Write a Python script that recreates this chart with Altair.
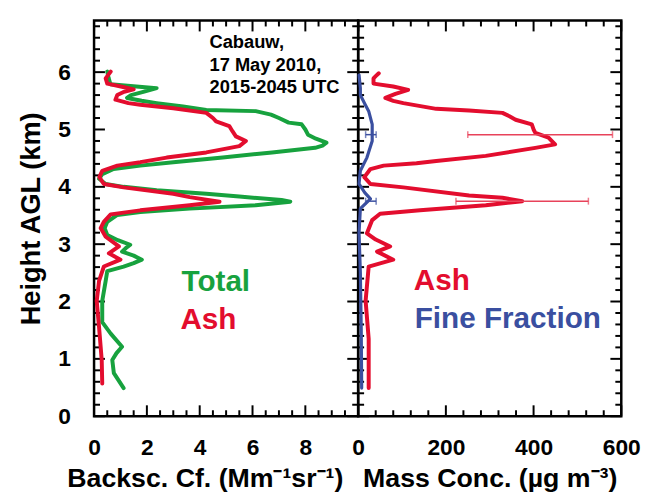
import altair as alt
import pandas as pd

# ---------------- data ----------------
# Left panel: backscatter coefficient (Mm-1 sr-1) vs height (km)
total_km = [6.01, 5.90, 5.79, 5.75, 5.72, 5.66, 5.60, 5.55, 5.50, 5.46, 5.40, 5.34, 5.32, 5.26,
            5.20, 5.12, 5.09, 5.00, 4.91, 4.84, 4.77, 4.72, 4.68, 4.60, 4.51, 4.43, 4.37, 4.31,
            4.22, 4.14, 4.05, 4.00, 3.94, 3.88, 3.83, 3.77, 3.74, 3.68, 3.62, 3.56, 3.51, 3.39,
            3.28, 3.16, 3.07, 2.99, 2.93, 2.87, 2.80, 2.73, 2.67, 2.61, 2.53, 2.36, 2.01, 1.64,
            1.44, 1.21, 1.10, 0.98, 0.75, 0.49]
total_bsc = [0.50, 0.55, 0.62, 1.60, 2.37, 1.90, 1.40, 1.25, 1.80, 2.37, 3.37, 4.25, 6.12, 6.70,
             7.00, 7.37, 7.86, 8.00, 8.10, 8.40, 8.80, 8.65, 8.37, 6.74, 4.87, 3.00, 1.75, 0.74,
             0.31, 0.19, 0.44, 1.12, 2.37, 4.25, 5.50, 7.10, 7.43, 6.12, 3.62, 1.75, 0.88, 0.50,
             0.40, 0.50, 0.90, 1.37, 1.20, 1.06, 1.50, 1.81, 1.50, 1.12, 0.50, 0.44, 0.31, 0.31,
             0.63, 1.06, 0.85, 0.69, 0.75, 1.12]

ash_km = [6.01, 5.96, 5.89, 5.80, 5.74, 5.70, 5.65, 5.60, 5.52, 5.46, 5.43, 5.37, 5.29, 5.20,
          5.14, 5.06, 4.97, 4.88, 4.80, 4.71, 4.60, 4.51, 4.43, 4.37, 4.28, 4.17, 4.05, 3.99,
          3.88, 3.82, 3.74, 3.68, 3.59, 3.52, 3.39, 3.28, 3.13, 2.96, 2.84, 2.73, 2.61, 2.36,
          2.01, 1.55, 0.98, 0.57]
ash_bsc = [0.63, 0.55, 0.44, 0.50, 1.10, 1.50, 1.10, 0.88, 0.81, 1.30, 1.75, 3.00, 4.25, 4.50,
           4.62, 5.12, 5.24, 5.37, 5.75, 5.50, 4.25, 2.75, 1.75, 0.88, 0.31, 0.20, 0.37, 1.12,
           3.00, 3.62, 4.75, 3.62, 1.75, 0.63, 0.37, 0.25, 0.44, 0.94, 0.56, 1.00, 0.37, 0.19,
           0.10, 0.19, 0.29, 0.31]

# Right panel: mass concentration (ug m-3) vs height (km)
mass_km = [5.98, 5.93, 5.89, 5.80, 5.75, 5.69, 5.62, 5.55, 5.50, 5.46, 5.36, 5.33, 5.29, 5.23,
           5.17, 5.09, 5.00, 4.94, 4.86, 4.74, 4.68, 4.54, 4.45, 4.41, 4.37, 4.31, 4.17, 4.05,
           3.99, 3.85, 3.81, 3.75, 3.68, 3.59, 3.53, 3.42, 3.19, 3.08, 2.96, 2.87, 2.73, 2.61,
           2.01, 1.35, 0.49]
ash_mass = [47, 40, 35, 35, 80, 114, 85, 62, 80, 103, 178, 253, 329, 345,
            359, 396, 400, 404, 434, 449, 404, 291, 178, 133, 58, 28, 14, 28,
            103, 253, 329, 374, 291, 141, 50, 32, 20, 40, 73, 43, 80, 24,
            17, 24, 24]

fine_km = [5.95, 5.72, 5.60, 5.45, 5.32, 5.09, 4.80, 4.51, 4.28, 4.05, 3.90, 3.79, 3.62, 3.20,
           2.50, 1.50, 0.49]
fine_mass = [2, 5, 5, 15, 24, 32, 32, 20, 5, 2, 15, 28, 5, 2, 5, 7, 8]

err_km = [4.91, 3.75]
ash_err_lo = [250, 223]
ash_err_hi = [580, 525]
fine_err_lo = [17, 17]
fine_err_hi = [41, 41]

left_x_labels = [0, 2, 4, 6, 8]
right_x_labels = [0, 200, 400, 600]
y_labels = [0, 1, 2, 3, 4, 5, 6]

site_text = "Cabauw,\n17 May 2010,\n2015-2045 UTC"

# ---------------- style ----------------
FONT = "Liberation Sans"
GREEN = "#17a23e"
RED = "#e30d2e"
RED_ERR = "#e8425a"
BLUE = "#3a4fa0"
W1, W2, H = 267, 266, 400
YDOM = [0, 6.9]

left_x_minor = [i * 0.5 for i in range(21) if (i * 0.5) % 2 != 0]
right_x_minor = [i * 40 for i in range(16) if (i * 40) % 200 != 0]
y_minor = [round(i * 0.2, 1) for i in range(35) if i % 5 != 0]
left_x_major = left_x_labels + [10]

x_axis_common = dict(ticks=False, domain=False, grid=False, labelFont=FONT, labelFontSize=23,
                     labelFontWeight="bold", labelColor="black", labelPadding=21,
                     labelFlush=False, titleFont=FONT, titleFontSize=27,
                     titleFontWeight="bold", titleColor="black", titlePadding=6)

left_x_axis = alt.Axis(values=left_x_labels, title="Backsc. Cf. (Mm\u207b\u00b9sr\u207b\u00b9)",
                       titleX=112, **x_axis_common)
right_x_axis = alt.Axis(values=right_x_labels, title="Mass Conc. (\u00b5g m\u207b\u00b3)",
                        **x_axis_common)
LEFT_XSCALE = alt.Scale(domain=[0, 10], nice=False, zero=False)
RIGHT_XSCALE = alt.Scale(domain=[0, 600], nice=False, zero=False)

X_left = alt.X("v:Q", scale=LEFT_XSCALE, axis=left_x_axis)
X_right = alt.X("v:Q", scale=RIGHT_XSCALE, axis=right_x_axis)
Y_left = alt.Y("km:Q", scale=alt.Scale(domain=YDOM, nice=False, zero=False),
               axis=alt.Axis(values=y_labels, title="Height AGL (km)", ticks=False, domain=False,
                             grid=False, labelFont=FONT, labelFontSize=23, labelFontWeight="bold",
                             labelColor="black", labelPadding=24, titleFont=FONT,
                             titleFontSize=27.5, titleFontWeight="bold", titleColor="black",
                             titlePadding=12))
Y_right = alt.Y("km:Q", scale=alt.Scale(domain=YDOM, nice=False, zero=False), axis=None)


def tick_layers(X, Y, W, x_major, x_minor, y_major, y_minor):
    layers = []
    for vals, L in [(y_major, 11), (y_minor, 6)]:
        base = alt.Chart(pd.DataFrame({"km": vals})).mark_rule(color="black", strokeWidth=2)
        layers.append(base.encode(y=Y, x=alt.value(0), x2=alt.value(L)))
        layers.append(base.encode(y=Y, x=alt.value(W - L), x2=alt.value(W)))
    for vals, L in [(x_major, 11), (x_minor, 6)]:
        base = alt.Chart(pd.DataFrame({"v": vals})).mark_rule(color="black", strokeWidth=2)
        layers.append(base.encode(x=X, y=alt.value(H - L), y2=alt.value(H)))
        layers.append(base.encode(x=X, y=alt.value(0), y2=alt.value(L)))
    return layers


def profile(km, vals, color, width, X, Y):
    df = pd.DataFrame({"km": km, "v": vals, "i": list(range(len(km)))})
    return alt.Chart(df).mark_line(color=color, strokeWidth=width, strokeJoin="round",
                                   strokeCap="round").encode(x=X, y=Y, order="i:Q")


def label(text, v, km, color, size, X, Y, **kw):
    df = pd.DataFrame({"v": [v], "km": [km], "t": [text]})
    return alt.Chart(df).mark_text(font=FONT, fontWeight="bold", fontSize=size, color=color,
                                   align="left", baseline="alphabetic", **kw).encode(
        x=X, y=Y, text="t:N")


# ---------------- left panel ----------------
left_layers = tick_layers(X_left, Y_left, W1, left_x_major, left_x_minor, y_labels, y_minor)
left_layers += [
    profile(total_km, total_bsc, GREEN, 4, X_left, Y_left),
    profile(ash_km, ash_bsc, RED, 4, X_left, Y_left),
    label(site_text, 4.37, 6.42, "black", 18.5, X_left, Y_left, lineBreak="\n", lineHeight=22.8),
    label("Total", 3.31, 2.19, GREEN, 30, X_left, Y_left),
    label("Ash", 3.27, 1.52, RED, 30, X_left, Y_left),
]
left = alt.layer(*left_layers).properties(width=W1, height=H)

# ---------------- right panel ----------------
err_df = pd.DataFrame({"km": err_km, "lo": ash_err_lo, "hi": ash_err_hi,
                       "flo": fine_err_lo, "fhi": fine_err_hi})


def errbar(lo, hi, color):
    base = alt.Chart(err_df)
    bar = base.mark_rule(color=color, strokeWidth=1.5).encode(
        x=alt.X(f"{lo}:Q", scale=RIGHT_XSCALE, axis=right_x_axis), x2=f"{hi}:Q", y=Y_right)
    cap1 = base.mark_tick(color=color, thickness=1.5, size=7, orient="vertical").encode(
        x=alt.X(f"{lo}:Q", scale=RIGHT_XSCALE, axis=right_x_axis), y=Y_right)
    cap2 = base.mark_tick(color=color, thickness=1.5, size=7, orient="vertical").encode(
        x=alt.X(f"{hi}:Q", scale=RIGHT_XSCALE, axis=right_x_axis), y=Y_right)
    return [bar, cap1, cap2]


right_layers = tick_layers(X_right, Y_right, W2, right_x_labels, right_x_minor, y_labels, y_minor)
right_layers += [
    profile(mass_km, ash_mass, RED, 4, X_right, Y_right),
    profile(fine_km, fine_mass, BLUE, 3.2, X_right, Y_right),
]
right_layers += errbar("lo", "hi", RED_ERR)
right_layers += errbar("flo", "fhi", BLUE)
right_layers += [
    label("Ash", 127, 2.2, RED, 30, X_right, Y_right),
    label("Fine Fraction", 129, 1.53, BLUE, 30, X_right, Y_right),
]
right = alt.layer(*right_layers).properties(width=W2, height=H)

chart = alt.hconcat(left, right, spacing=0, bounds="flush").properties(
    padding={"left": 8, "top": 7, "right": 5, "bottom": 0}
).configure_view(stroke="black", strokeWidth=2.5)

chart.save("out.html", embed_options={"renderer": "svg", "actions": False})
